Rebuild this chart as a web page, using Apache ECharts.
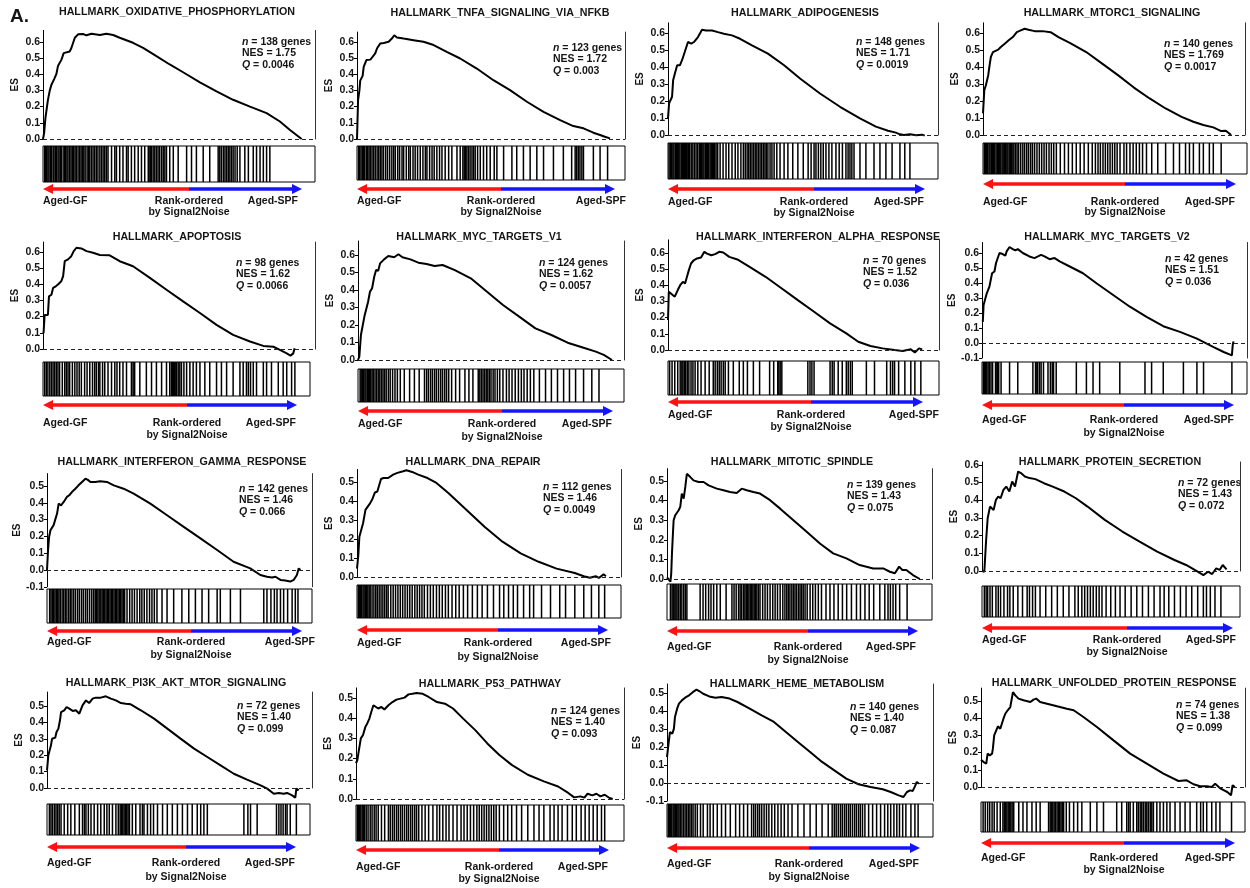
<!DOCTYPE html>
<html><head><meta charset="utf-8">
<script src="https://cdn.jsdelivr.net/npm/echarts@6/dist/echarts.min.js"></script>
<style>html,body{margin:0;padding:0;background:#fff}#c{width:1250px;height:888px}</style>
</head><body><div id="c"></div>
<script>
const FONT = '"Liberation Sans", Arial, Helvetica, sans-serif';

const titles = ['HALLMARK_OXIDATIVE_PHOSPHORYLATION','HALLMARK_TNFA_SIGNALING_VIA_NFKB','HALLMARK_ADIPOGENESIS','HALLMARK_MTORC1_SIGNALING',
  'HALLMARK_APOPTOSIS','HALLMARK_MYC_TARGETS_V1','HALLMARK_INTERFERON_ALPHA_RESPONSE','HALLMARK_MYC_TARGETS_V2',
  'HALLMARK_INTERFERON_GAMMA_RESPONSE','HALLMARK_DNA_REPAIR','HALLMARK_MITOTIC_SPINDLE','HALLMARK_PROTEIN_SECRETION',
  'HALLMARK_PI3K_AKT_MTOR_SIGNALING','HALLMARK_P53_PATHWAY','HALLMARK_HEME_METABOLISM','HALLMARK_UNFOLDED_PROTEIN_RESPONSE'];
const nGenes = [138,123,148,140,98,124,70,42,142,112,139,72,72,124,140,74];
const nesVals = ['1.75','1.72','1.71','1.769','1.62','1.62','1.52','1.51','1.46','1.46','1.43','1.43','1.40','1.40','1.40','1.38'];
const qVals = ['0.0046','0.003','0.0019','0.0017','0.0066','0.0057','0.036','0.036','0.066','0.0049','0.075','0.072','0.099','0.093','0.087','0.099'];

const ticks06 = [0,0.1,0.2,0.3,0.4,0.5,0.6];
const ticksM06 = [-0.1,0,0.1,0.2,0.3,0.4,0.5,0.6];
const ticks05 = [0,0.1,0.2,0.3,0.4,0.5];
const ticksM05 = [-0.1,0,0.1,0.2,0.3,0.4,0.5];
const yTickSets = [ticks06,ticks06,ticks06,ticks06,ticks06,ticks06,ticks06,ticksM06,
  ticksM05,ticks05,ticks05,ticks06,ticks05,ticks05,ticksM05,ticks05];

// ES curves: [rank position (% of ranked list), enrichment score]
const es1 = [[0,0],[0.4,0.035],[0.9,0.13],[1.8,0.24],[2.5,0.30],[3.1,0.335],[3.7,0.33],[4.1,0.37],[4.9,0.40],[5.5,0.45],[6.1,0.44],[6.8,0.49],[7.6,0.53],[8.3,0.54],[9.8,0.54],[10.4,0.56],[11.7,0.625],[12.9,0.646],[13.5,0.636],[14.7,0.648],[16,0.64],[17.8,0.65],[20.9,0.642],[23.3,0.65],[25.8,0.642],[28.2,0.625],[33.1,0.594],[36.8,0.563],[41.7,0.511],[46.6,0.46],[51.5,0.412],[57.7,0.35],[63.8,0.294],[69.9,0.242],[76.1,0.20],[82.2,0.16],[87.1,0.108],[90.8,0.056],[95.1,0]];
const es2 = [[0,0],[0.4,0.24],[0.9,0.30],[1.2,0.36],[1.6,0.37],[2.1,0.39],[2.5,0.445],[3.1,0.455],[3.5,0.487],[4.0,0.497],[5.0,0.49],[5.6,0.503],[6.8,0.528],[7.5,0.56],[8.7,0.59],[10.0,0.593],[11.8,0.60],[13.0,0.62],[13.9,0.64],[14.9,0.627],[17.4,0.62],[21.1,0.61],[24.8,0.60],[28.6,0.58],[33.5,0.538],[38.5,0.497],[44.7,0.435],[50.9,0.363],[57.1,0.302],[63.4,0.23],[69.6,0.168],[75.8,0.117],[80.7,0.08],[84.5,0.066],[88.2,0.039],[90.7,0.025],[92.5,0.014],[94.4,0.004]];
const es3 = [[0,0.098],[0.4,0.186],[1.0,0.176],[1.5,0.225],[1.9,0.322],[2.7,0.37],[3.4,0.41],[4.4,0.41],[5.2,0.44],[6.2,0.488],[7.4,0.547],[8.6,0.537],[9.6,0.547],[11.1,0.576],[12.6,0.619],[14.1,0.615],[16.3,0.615],[18.5,0.605],[20.7,0.596],[23.7,0.586],[26.7,0.566],[31.1,0.527],[37.0,0.479],[43.0,0.41],[48.9,0.332],[56.3,0.244],[63.7,0.166],[71.1,0.098],[77.0,0.049],[81.5,0.025],[84.4,0.014],[85.9,0.004],[87.4,0],[89.6,0.004],[91.9,-0.002],[94.1,0.002],[95.1,-0.004]];
const es4 = [[0,0.127],[0.5,0.264],[1.1,0.293],[1.5,0.283],[2.0,0.352],[2.6,0.42],[3.0,0.459],[3.8,0.488],[4.5,0.498],[5.8,0.502],[6.8,0.518],[8.3,0.537],[9.8,0.557],[11.4,0.576],[12.9,0.605],[14.4,0.615],[15.9,0.625],[17.4,0.619],[19.7,0.611],[22.7,0.611],[25.8,0.605],[28.8,0.576],[33.3,0.541],[39.4,0.488],[45.5,0.42],[51.5,0.352],[57.6,0.279],[63.6,0.215],[69.7,0.156],[75.8,0.107],[80.3,0.078],[84.1,0.059],[87.9,0.045],[90.9,0.023],[92.7,0.025],[94.7,0]];
const es5 = [[0.2,0.097],[0.6,0.21],[1.2,0.22],[1.8,0.21],[2.2,0.325],[3.1,0.335],[3.7,0.377],[4.7,0.387],[5.5,0.398],[6.1,0.408],[6.7,0.418],[7.4,0.45],[8.0,0.542],[9.2,0.553],[10.4,0.573],[11.3,0.604],[12.3,0.625],[14.1,0.621],[16.0,0.604],[18.4,0.594],[20.9,0.58],[24.5,0.578],[28.2,0.542],[33.1,0.511],[39.3,0.439],[45.4,0.366],[51.5,0.294],[57.7,0.222],[63.8,0.149],[69.9,0.087],[76.1,0.046],[81.0,0.019],[84.7,0.014],[87.1,-0.006],[89.6,-0.027],[91.0,-0.041],[92.0,-0.027],[92.5,0.004]];
const es6 = [[0,0],[0.5,0.019],[1.1,0.143],[1.8,0.133],[2.4,0.248],[3.0,0.238],[3.8,0.333],[4.5,0.39],[5.3,0.41],[6.1,0.476],[6.8,0.514],[7.6,0.51],[8.3,0.552],[9.8,0.575],[11.4,0.594],[13.6,0.587],[15.2,0.604],[16.7,0.587],[19.7,0.575],[22.7,0.556],[25.8,0.549],[28.8,0.537],[31.8,0.543],[36.4,0.514],[42.4,0.467],[48.5,0.39],[54.5,0.314],[60.6,0.248],[66.7,0.181],[72.7,0.143],[78.8,0.099],[84.8,0.07],[89.4,0.048],[92.4,0.029],[95.5,0]];
const es7 = [[0,0.185],[0.3,0.36],[1.0,0.349],[2.5,0.329],[3.6,0.37],[4.5,0.40],[5.5,0.421],[6.3,0.41],[7.0,0.452],[7.7,0.493],[8.5,0.534],[9.5,0.554],[10.7,0.565],[12.2,0.571],[13.4,0.606],[14.4,0.595],[16.0,0.585],[17.4,0.592],[18.9,0.606],[20.4,0.602],[22.6,0.575],[25.6,0.559],[30.1,0.513],[36.0,0.452],[42.0,0.38],[47.9,0.308],[53.9,0.236],[59.8,0.164],[65.8,0.103],[70.2,0.051],[74.7,0.025],[79.2,0.01],[83.6,0],[86.6,-0.006],[89.6,0.004],[91.1,-0.016],[92.6,0.01],[93.8,0.004]];
const es8 = [[0.3,0.141],[0.6,0.253],[1.3,0.246],[1.8,0.331],[2.4,0.327],[2.8,0.376],[3.4,0.387],[3.8,0.465],[4.7,0.477],[5.3,0.533],[5.9,0.544],[6.6,0.60],[7.8,0.593],[8.8,0.582],[9.3,0.611],[10.4,0.64],[11.6,0.626],[12.6,0.617],[13.5,0.626],[15.4,0.60],[17.9,0.577],[19.8,0.566],[21.1,0.577],[22.3,0.588],[23.6,0.577],[25.5,0.559],[27.4,0.566],[29.3,0.544],[33.1,0.51],[38.1,0.465],[43.2,0.398],[49.5,0.32],[55.8,0.242],[62.1,0.174],[68.4,0.112],[74.7,0.074],[81.1,0.029],[87.4,-0.027],[91.2,-0.06],[94.3,-0.083],[94.6,-0.016],[94.9,0.011]];
const es9 = [[0,0],[0.4,0.119],[0.8,0.198],[1.3,0.237],[1.9,0.247],[2.5,0.267],[3.1,0.277],[3.8,0.336],[4.4,0.395],[5.3,0.385],[6.3,0.405],[7.5,0.435],[8.4,0.445],[9.4,0.464],[10.7,0.484],[11.9,0.504],[13.2,0.524],[14.5,0.543],[15.3,0.538],[16.4,0.524],[18.2,0.524],[20.1,0.528],[22.6,0.524],[25.2,0.504],[28.9,0.484],[32.7,0.455],[39.0,0.395],[45.3,0.326],[51.6,0.257],[57.9,0.188],[64.2,0.119],[70.4,0.049],[76.7,0.01],[80.5,-0.03],[83.0,-0.04],[84.9,-0.045],[86.2,-0.04],[88.1,-0.059],[89.9,-0.063],[90.6,-0.055],[91.8,-0.069],[93.1,-0.059],[94.3,-0.03],[95.0,0.01],[95.6,0]];
const es10 = [[0,0.044],[0.5,0.115],[0.9,0.212],[1.6,0.247],[2.3,0.283],[3.2,0.353],[3.9,0.345],[5.0,0.389],[5.7,0.406],[6.8,0.445],[7.7,0.45],[9.1,0.516],[10.0,0.521],[11.8,0.521],[13.7,0.539],[15.3,0.548],[17.5,0.557],[18.7,0.562],[20.9,0.553],[23.2,0.539],[26.7,0.521],[30.1,0.495],[34.6,0.442],[41.5,0.353],[48.3,0.265],[55.1,0.186],[62.0,0.124],[68.8,0.08],[75.6,0.044],[82.5,0.021],[85.9,0.004],[88.2,-0.004],[90.4,0.004],[91.6,-0.005],[93.4,0.014],[94.3,0.004]];
const es11 = [[0,0.008],[0.6,0.003],[1.3,-0.014],[1.6,0.029],[1.9,0.139],[2.3,0.249],[2.5,0.30],[3.1,0.325],[3.8,0.317],[4.4,0.351],[5.0,0.368],[5.6,0.436],[6.3,0.41],[6.9,0.47],[7.5,0.537],[8.8,0.52],[10.0,0.503],[11.9,0.495],[13.8,0.495],[15.7,0.478],[18.8,0.461],[21.3,0.453],[23.8,0.444],[26.3,0.439],[28.2,0.461],[30.1,0.453],[32.6,0.444],[35.1,0.436],[38.9,0.402],[42.7,0.359],[47.7,0.30],[52.7,0.241],[57.7,0.181],[62.7,0.131],[67.7,0.105],[72.7,0.071],[77.8,0.054],[81.6,0.054],[84.1,0.037],[86.0,0.029],[87.6,0.063],[88.8,0.046],[90.3,0.046],[92.8,0.02],[95.4,0]];
const es12 = [[0,0],[0.9,-0.004],[1.6,0.175],[2.2,0.298],[3.1,0.364],[4.5,0.345],[5.4,0.402],[6.3,0.421],[7.2,0.411],[8.3,0.458],[9.4,0.477],[10.6,0.449],[11.7,0.506],[12.8,0.477],[14.0,0.562],[15.1,0.553],[16.6,0.534],[18.4,0.525],[20.7,0.519],[24.0,0.496],[27.4,0.477],[31.9,0.449],[36.4,0.411],[40.9,0.364],[47.6,0.289],[54.4,0.223],[61.1,0.166],[67.9,0.109],[74.6,0.062],[79.1,0.034],[83.6,-0.004],[85.8,-0.023],[87.6,-0.004],[89.2,-0.017],[90.8,0.015],[92.1,0.006],[93.3,0.034],[94.8,0.009]];
const es13 = [[0,0.108],[0.5,0.199],[1.1,0.205],[1.5,0.26],[1.9,0.30],[2.5,0.311],[3.1,0.307],[3.6,0.341],[4.3,0.362],[4.9,0.413],[5.3,0.463],[5.9,0.457],[6.5,0.473],[7.4,0.494],[8.4,0.484],[9.7,0.47],[10.9,0.474],[12.2,0.453],[13.4,0.504],[14.7,0.534],[15.9,0.518],[17.2,0.545],[18.4,0.551],[20.3,0.551],[22.2,0.559],[24.1,0.545],[26.0,0.534],[27.9,0.518],[29.7,0.514],[31.6,0.51],[35.4,0.474],[40.4,0.423],[45.4,0.362],[50.4,0.301],[55.5,0.24],[60.5,0.189],[65.5,0.138],[70.5,0.087],[75.5,0.051],[80.6,0.016],[83.1,-0.004],[85.6,-0.035],[87.5,-0.03],[89.3,-0.035],[90.6,-0.03],[92.5,-0.045],[93.7,-0.059],[94.1,-0.004],[95.0,-0.014]];
const es14 = [[0,0.177],[0.5,0.193],[1.1,0.243],[1.8,0.30],[2.6,0.316],[3.5,0.357],[4.2,0.374],[5.0,0.398],[5.7,0.431],[6.5,0.464],[7.2,0.456],[8.3,0.448],[9.5,0.456],[10.6,0.443],[12.1,0.464],[13.6,0.48],[15.1,0.492],[16.6,0.497],[18.1,0.502],[19.6,0.518],[21.1,0.521],[22.6,0.525],[24.9,0.521],[27.1,0.505],[30.2,0.48],[33.2,0.472],[36.2,0.448],[40.0,0.398],[44.5,0.341],[49.0,0.275],[53.5,0.218],[58.1,0.169],[64.1,0.12],[70.1,0.087],[75.4,0.062],[79.2,0.03],[81.4,0.008],[83.7,0.013],[85.2,0.007],[86.4,0.026],[88.2,0.018],[89.7,0.026],[91.2,0.013],[92.8,0.021],[94.6,0.005],[95.8,0]];
const es15 = [[0,0.144],[0.5,0.209],[1.1,0.283],[2.0,0.274],[2.6,0.302],[3.0,0.367],[3.8,0.413],[4.5,0.441],[5.6,0.459],[6.8,0.474],[8.3,0.487],[9.8,0.506],[11.1,0.519],[12.1,0.511],[13.6,0.496],[15.9,0.481],[18.2,0.474],[20.5,0.478],[23.5,0.469],[26.5,0.45],[31.1,0.413],[35.6,0.376],[40.2,0.339],[44.7,0.283],[49.2,0.228],[53.8,0.172],[58.3,0.117],[62.9,0.07],[67.4,0.024],[72.0,-0.007],[76.5,-0.022],[81.1,-0.035],[84.1,-0.05],[87.1,-0.069],[88.9,-0.078],[90.2,-0.05],[91.4,-0.041],[92.4,-0.044],[93.2,-0.019],[93.9,0.006],[94.7,-0.004]];
const es16 = [[0,0.159],[1.0,0.145],[2.0,0.136],[2.5,0.194],[3.3,0.184],[4.2,0.194],[4.5,0.223],[5.0,0.30],[5.7,0.291],[6.4,0.353],[7.3,0.339],[7.9,0.333],[8.5,0.397],[9.2,0.426],[10.1,0.446],[11.1,0.465],[12.1,0.552],[13.0,0.533],[14.2,0.514],[16.1,0.504],[18.7,0.494],[19.9,0.508],[20.9,0.514],[22.4,0.494],[25.0,0.484],[28.8,0.469],[32.5,0.455],[35.1,0.446],[38.8,0.407],[43.9,0.349],[50.2,0.271],[56.5,0.194],[62.8,0.136],[69.1,0.078],[74.8,0.035],[77.9,0.039],[80.5,0.016],[83.0,0.004],[85.5,0.004],[87.4,0],[88.7,0.019],[90.8,-0.01],[93.3,-0.029],[94.7,-0.048],[95.3,0.01],[96.2,0]];

// Gene-set hit positions (% of ranked list)
const hits1 = [0.6,1.0,1.3,1.8,2.2,2.7,3.1,3.7,4.0,4.5,4.9,5.5,5.9,6.4,6.7,7.4,8.0,8.3,8.8,9.2,9.8,10.3,10.8,11.3,11.8,12.3,12.9,13.5,14.0,14.5,15.0,15.5,16.2,16.7,17.2,17.8,18.4,19.0,19.6,20.2,20.9,21.5,22.1,22.7,23.3,23.9,25.2,26.4,27.0,28.2,29.4,30.7,31.3,32.5,33.7,35.0,36.2,37.4,38.7,39.0,39.5,39.9,40.5,41.1,41.7,42.3,42.9,43.6,44.2,44.8,45.4,46.6,47.9,49.7,52.8,54.6,56.4,58.9,61.3,64.4,65.0,65.6,66.3,66.9,67.5,68.1,68.7,69.3,69.9,70.6,71.4,72.4,74.2,75.5,77.3,78.5,79.8,81.0,82.2,83.4];
const hits2 = [0.6,1.0,1.5,2.0,2.5,2.9,3.5,4.0,4.5,5.0,5.6,6.2,6.8,7.5,8.1,8.7,9.3,9.9,10.7,11.4,12.2,13.0,13.7,14.3,15.2,15.9,16.8,17.4,18.4,19.3,19.9,20.9,21.7,22.6,23.6,24.6,25.5,26.1,27.1,28.0,28.8,29.8,30.8,31.7,32.9,34.2,35.4,37.3,38.5,39.5,40.0,40.5,41.0,41.6,42.2,42.9,43.5,44.1,45.0,46.0,47.2,48.4,49.7,51.2,52.2,54.7,57.8,59.6,62.1,64.6,67.1,69.6,73.3,77.0,80.1,81.4,82.0,82.6,83.2,83.9,84.5,88.2,90.7,93.5];
const hits3 = [0.4,0.9,1.3,1.8,2.2,2.7,3.1,3.6,4.0,4.4,4.9,5.3,5.8,6.2,6.5,6.8,7.1,7.6,8.0,8.6,9.2,9.8,10.4,11.0,11.6,12.0,12.4,12.9,13.3,13.8,14.2,14.7,15.1,15.6,16.0,16.4,16.9,17.3,17.8,18.4,19.3,20.4,21.5,22.5,23.7,24.9,25.9,27.0,27.9,28.6,29.3,29.9,30.5,31.1,31.7,32.3,32.9,33.5,34.1,34.7,35.3,35.9,36.4,37.0,37.8,38.5,39.3,40.3,41.5,43.0,44.4,46.2,48.1,50.1,51.9,53.0,54.1,54.8,55.7,56.6,57.5,58.5,59.6,60.7,62.2,63.4,64.6,65.9,66.7,67.4,68.1,68.9,71.1,73.3,76.3,78.5,80.7,83.0,85.9,87.7,89.6];
const hits4 = [0.5,0.9,1.4,1.8,2.3,2.7,3.2,3.6,4.1,4.5,5.0,5.5,5.9,6.4,6.8,7.3,7.7,8.2,8.6,9.1,9.5,10.0,10.5,10.9,11.4,11.8,12.4,13.0,13.6,14.4,15.2,15.9,16.7,17.4,18.2,18.9,19.7,20.6,21.5,22.4,23.3,24.2,25.2,26.1,27.0,28.0,29.5,31.1,32.6,34.1,35.6,37.1,38.6,40.2,41.7,42.9,43.9,44.8,45.8,46.7,47.6,48.5,49.4,50.3,51.2,52.3,53.8,54.8,56.1,57.3,58.5,59.7,60.9,62.4,64.4,66.7,69.7,72.7,75.0,77.3,78.8,80.3,82.6,84.1,86.4,87.9,90.9];
const hits5 = [0.6,1.2,1.8,2.5,3.1,3.7,4.3,4.9,5.5,6.1,7.1,8.0,8.6,9.2,9.8,10.8,11.7,12.5,13.3,14.1,15.3,16.2,17.2,18.2,19.0,19.6,20.4,20.9,21.9,22.7,23.9,25.2,26.4,27.2,28.2,29.4,30.7,32.5,33.1,33.5,33.7,35.6,38.0,39.9,41.7,43.6,45.4,46.6,47.2,47.6,47.9,48.3,48.6,49.1,49.7,50.3,50.9,51.8,52.8,54.0,55.2,56.4,57.7,59.5,61.3,63.8,65.6,67.5,69.9,72.4,73.6,74.8,75.5,76.3,77.3,78.5,81.0,82.2,84.0,86.5,88.3,89.6,91.4,92.6];
const hits6 = [0.8,1.2,1.7,2.1,2.6,3.0,3.5,3.9,4.4,4.8,5.3,5.8,6.4,7.0,7.6,8.2,8.8,9.4,10.0,10.6,11.4,12.1,13.0,13.9,14.8,15.9,17.4,19.4,21.2,23.0,25.0,25.8,26.5,27.3,28.0,28.8,29.5,30.3,31.1,31.8,32.6,33.3,34.1,35.2,36.7,38.2,40.2,41.7,43.2,45.2,45.8,46.4,47.0,47.6,48.2,48.8,49.4,50.0,50.8,51.5,52.4,53.3,54.5,55.8,56.8,57.9,59.1,60.3,61.4,62.4,63.6,64.8,66.1,68.2,70.5,72.7,75.0,77.3,79.5,81.8,84.8,87.9,90.6];
const hits7 = [0.6,1.5,2.5,3.6,4.5,5.1,5.5,6.0,6.5,7.1,7.7,8.5,9.2,10.0,11.0,12.2,13.7,15.2,16.7,17.4,18.2,18.9,19.6,20.4,21.1,22.3,24.1,26.3,27.8,29.3,31.5,33.8,37.5,39.0,40.5,40.9,41.4,42.0,51.6,52.4,53.1,53.9,59.8,60.6,61.3,62.8,64.3,65.8,66.5,67.3,68.0,73.2,76.2,80.7,82.1,82.9,83.6,85.1,87.4,89.6,91.1,93.3];
const hits8 = [0.5,0.9,1.3,1.8,2.3,2.8,3.4,4.0,5.1,5.6,5.9,6.3,7.2,10.4,13.5,19.2,20.2,20.7,21.0,21.7,22.3,23.2,24.9,25.8,26.5,27.0,28.0,35.6,39.4,41.9,44.4,52.0,61.5,64.0,68.4,76.0,81.1,83.6,94.3];
const hits9 = [1.0,1.5,2.0,2.5,3.0,3.5,4.0,4.5,5.0,5.7,6.3,6.9,7.5,8.2,8.8,9.4,10.1,10.8,11.6,12.3,13.1,13.8,14.6,15.3,16.1,16.9,17.6,18.2,18.7,19.2,19.7,20.3,20.8,21.3,21.8,22.3,22.8,23.3,23.8,24.3,24.8,25.3,25.8,26.3,26.8,27.3,27.8,28.3,28.8,29.3,30.2,31.2,32.1,33.0,34.0,35.0,35.8,36.7,37.7,38.7,39.6,40.5,41.5,43.4,45.3,47.8,50.9,53.5,56.0,58.5,61.0,64.2,65.4,69.2,73.0,81.8,83.0,84.5,85.8,86.8,88.1,89.3,90.8,92.5,93.7,94.7];
const hits10 = [0.5,0.9,1.4,1.8,2.3,2.7,3.2,3.6,4.1,4.6,5.0,5.7,6.4,7.1,7.7,8.4,9.1,9.8,10.5,11.2,11.8,12.8,13.7,14.6,15.5,16.4,17.3,18.2,19.1,20.0,20.9,21.9,22.8,23.7,24.6,25.5,26.7,27.8,28.9,30.1,31.2,32.3,33.5,34.6,36.0,37.4,38.7,40.3,41.9,43.7,45.6,47.4,49.4,51.7,54.0,55.6,57.4,59.2,60.8,63.1,65.4,66.9,69.9,73.3,76.8,79.0,82.5,85.9,88.8,91.6,93.8];
const hits11 = [1.3,1.9,2.3,2.6,3.0,3.4,3.8,4.4,5.0,5.6,6.3,6.9,7.5,12.5,13.6,14.6,15.7,16.6,17.6,18.8,20.1,22.3,24.5,25.3,26.1,27.0,27.6,28.2,28.9,29.4,29.9,30.4,30.9,31.4,31.9,32.4,32.9,33.4,33.9,34.5,35.1,36.1,37.0,37.9,38.9,39.9,40.8,41.7,42.7,43.7,44.5,45.2,45.8,46.4,47.1,47.7,48.3,48.9,49.6,50.2,50.8,51.4,52.1,52.9,54.0,55.0,56.0,57.1,58.3,60.0,61.5,63.0,64.6,66.2,67.8,69.6,71.5,73.0,74.7,76.3,78.0,80.3,82.2,83.4,84.3,85.3,86.3,87.8,90.6];
const hits12 = [0.9,1.6,2.2,3.1,4.0,5.4,6.3,7.2,8.5,9.9,10.8,12.1,13.9,15.7,17.5,18.4,19.6,20.7,22.5,24.7,27.0,29.2,31.5,33.7,36.0,37.3,38.7,39.8,40.9,42.0,43.1,44.3,45.4,46.5,48.1,49.9,51.7,53.5,55.5,57.8,60.0,62.2,64.5,66.7,69.0,70.6,72.4,74.6,76.9,79.1,81.3,83.6,85.8,87.0,88.5,90.3,92.6];
const hits13 = [0.9,1.5,2.1,2.8,3.4,4.0,4.6,5.3,6.5,7.8,9.0,10.5,12.2,13.4,14.1,14.7,15.6,16.6,17.8,19.1,20.3,21.6,22.6,23.5,24.7,26.0,26.9,27.6,28.1,28.6,29.1,29.6,30.1,30.6,31.1,32.2,33.5,35.1,36.0,36.6,37.9,39.1,40.2,41.7,43.6,45.4,47.3,49.2,51.1,53.0,54.8,56.7,58.0,59.2,60.5,74.3,75.8,76.8,79.3,86.6,87.5,88.3,89.1,90.0,90.6,91.8,94.1];
const hits14 = [0.5,0.9,1.4,1.8,2.3,2.7,3.2,3.8,4.5,5.3,6.0,6.8,7.5,8.3,9.5,10.7,12.1,12.8,13.6,14.3,15.1,15.8,16.6,17.3,18.1,18.9,19.6,20.4,21.1,21.9,22.6,23.4,24.6,25.8,27.1,28.7,30.2,31.2,32.4,33.6,34.7,36.2,37.7,39.2,40.3,41.5,42.7,43.9,45.1,46.0,46.9,47.8,48.7,49.6,50.5,51.4,52.3,53.5,55.1,56.6,58.1,59.9,61.8,64.1,66.4,68.3,70.1,72.4,73.9,75.4,76.9,78.9,80.7,82.2,84.0,85.5,87.0,88.5,90.0,91.6,92.8];
const hits15 = [0.5,0.9,1.4,1.8,2.3,2.7,3.2,3.6,4.1,4.5,5.0,5.6,6.2,6.8,7.4,8.0,8.6,9.2,9.8,10.6,11.4,12.6,13.6,15.2,16.2,17.4,18.9,20.5,22.0,23.8,25.8,27.3,28.8,30.3,31.8,32.6,33.3,34.1,34.8,35.6,36.5,37.4,38.3,39.4,40.5,41.7,42.9,44.1,45.5,47.0,49.2,51.5,53.8,56.1,58.3,60.6,62.1,62.9,63.6,64.4,65.2,65.9,66.7,67.4,68.2,68.9,69.7,70.5,71.2,72.0,72.7,73.5,74.4,75.8,77.3,78.8,80.3,81.8,83.0,84.1,85.3,86.4,87.4,88.6,89.8,91.7,93.2,94.4];
const hits16 = [0.8,1.6,2.5,3.3,4.2,5.0,6.1,7.3,8.3,8.8,9.3,9.8,10.3,10.8,11.3,11.8,12.4,14.3,15.9,17.4,19.3,20.9,22.4,25.6,26.2,26.7,27.2,27.7,28.2,28.8,29.3,29.8,30.3,30.8,31.3,32.3,33.5,35.1,36.6,38.2,41.4,43.9,46.4,51.4,53.3,55.2,55.9,56.5,57.7,59.0,59.6,60.3,60.9,61.5,62.2,62.8,63.4,64.1,64.7,65.3,66.6,67.8,69.1,70.4,71.6,73.5,75.4,77.3,79.2,81.7,83.2,84.2,85.5,87.4,89.0,90.5,94.9];

const esData = [es1,es2,es3,es4,es5,es6,es7,es8,es9,es10,es11,es12,es13,es14,es15,es16];
const hitsData = [hits1,hits2,hits3,hits4,hits5,hits6,hits7,hits8,hits9,hits10,hits11,hits12,hits13,hits14,hits15,hits16];

// Panel layout (pixels) and axis extents
const layout = [
 {ax:43,rx:315,y0:139,t:16.2,yMin:0,yMax:0.67,bT:146,bB:182,bR:315,aY:189,aE:302,mid:189,l1:201,l2:212,spf:298,tX:177,tY:12,nX:242,nY:42},
 {ax:357,rx:625,y0:139,t:16.2,yMin:0,yMax:0.66,bT:146,bB:180,bR:625,aY:189,aE:615,mid:501,l1:201,l2:212,spf:626,tX:500,tY:13,nX:553,nY:48},
 {ax:668,rx:938,y0:135,t:17,yMin:0,yMax:0.66,bT:143,bB:179,bR:938,aY:189,aE:925,mid:814,l1:202,l2:213,spf:924,tX:805,tY:13,nX:856,nY:42},
 {ax:983,rx:1245,y0:135,t:17,yMin:0,yMax:0.66,bT:143,bB:174,bR:1247,aY:184,aE:1236,mid:1125,l1:202,l2:212,spf:1235,tX:1112,tY:13,nX:1164,nY:44},
 {ax:43,rx:315,y0:349,t:16.2,yMin:0,yMax:0.66,bT:362,bB:396,bR:310,aY:405,aE:297,mid:187,l1:423,l2:435,spf:296,tX:177,tY:237,nX:236,nY:263},
 {ax:358,rx:624,y0:360,t:17.5,yMin:0,yMax:0.68,bT:369,bB:402,bR:624,aY:411,aE:613,mid:502,l1:424,l2:437,spf:612,tX:479,tY:237,nX:539,nY:263},
 {ax:668,rx:939,y0:350,t:16.2,yMin:0,yMax:0.68,bT:361,bB:395,bR:939,aY:402,aE:923,mid:811,l1:415,l2:427,spf:939,tX:818,tY:237,nX:863,nY:261},
 {ax:982,rx:1247,y0:343,t:15,yMin:-0.1,yMax:0.67,bT:362,bB:394,bR:1247,aY:405,aE:1234,mid:1124,l1:420,l2:433,spf:1234,tX:1107,tY:237,nX:1165,nY:259},
 {ax:47,rx:312,y0:570,t:16.8,yMin:-0.1,yMax:0.574,bT:589,bB:623,bR:312,aY:631,aE:302,mid:191,l1:642,l2:655,spf:315,tX:182,tY:462,nX:239,nY:489},
 {ax:357,rx:621,y0:577,t:19,yMin:0,yMax:0.566,bT:585,bB:618,bR:621,aY:630,aE:608,mid:498,l1:643,l2:657,spf:611,tX:473,tY:462,nX:543,nY:487},
 {ax:667,rx:932,y0:579,t:19.6,yMin:0,yMax:0.563,bT:584,bB:620,bR:932,aY:631,aE:918,mid:808,l1:647,l2:660,spf:916,tX:792,tY:462,nX:847,nY:485},
 {ax:982,rx:1240,y0:571,t:17.7,yMin:0,yMax:0.616,bT:586,bB:617,bR:1240,aY:628,aE:1233,mid:1127,l1:640,l2:652,spf:1236,tX:1110,tY:462,nX:1178,nY:483},
 {ax:47,rx:312,y0:788,t:16.4,yMin:0,yMax:0.585,bT:804,bB:835,bR:310,aY:847,aE:296,mid:186,l1:863,l2:877,spf:295,tX:176,tY:683,nX:237,nY:706},
 {ax:356,rx:624,y0:799,t:20.2,yMin:0,yMax:0.55,bT:805,bB:841,bR:624,aY:850,aE:609,mid:499,l1:867,l2:879,spf:608,tX:490,tY:684,nX:551,nY:711},
 {ax:667,rx:933,y0:783,t:18,yMin:-0.1,yMax:0.55,bT:804,bB:837,bR:933,aY:848,aE:920,mid:809,l1:864,l2:877,spf:919,tX:797,tY:684,nX:850,nY:707},
 {ax:981,rx:1245,y0:787,t:17.2,yMin:0,yMax:0.575,bT:802,bB:832,bR:1245,aY:843,aE:1235,mid:1124,l1:858,l2:870,spf:1235,tX:1114,tY:683,nX:1176,nY:705}
];

const RED = '#ff1212', BLUE = '#1414ff', INK = '#151515';
const grids = [], xAxes = [], yAxes = [], series = [], graphics = [];
const txt = (x, y, text, size, align, extra) => ({type:'text', x:x, y:y, silent:true,
  style:Object.assign({text:text, fill:INK, fontFamily:FONT, fontWeight:'bold', fontSize:size, align:align, verticalAlign:'middle'}, extra||{})});

graphics.push(txt(10, 17, 'A.', 19, 'left'));

layout.forEach((L, i) => {
  const top = L.y0 - L.yMax / 0.1 * L.t;
  const bottom = L.y0 - L.yMin / 0.1 * L.t;
  const gi = grids.length;
  grids.push({left:L.ax, top:top, width:L.rx - L.ax, height:bottom - top});
  grids.push({left:L.ax, top:L.bT, width:L.bR - L.ax, height:L.bB - L.bT, show:true, borderColor:'#000', borderWidth:1, backgroundColor:'#fff'});
  const xi = xAxes.length;
  xAxes.push({gridIndex:gi, type:'value', min:0, max:100, show:false});
  xAxes.push({gridIndex:gi + 1, type:'value', min:0, max:100 * (L.bR - L.ax) / (L.rx - L.ax), show:false});
  const yi = yAxes.length;
  const ticks = yTickSets[i];
  yAxes.push({gridIndex:gi, type:'value', min:L.yMin, max:L.yMax, position:'left',
    axisLine:{show:true, onZero:false, lineStyle:{color:'#000', width:1}},
    axisTick:{show:true, length:3, customValues:ticks, lineStyle:{color:'#000'}},
    axisLabel:{customValues:ticks, formatter:v => v.toFixed(1), color:INK, fontSize:10.5, fontWeight:'bold', fontFamily:FONT, margin:3},
    splitLine:{show:false},
    name:'ES', nameLocation:'middle', nameGap:23,
    nameTextStyle:{color:INK, fontSize:10, fontWeight:'bold', fontFamily:FONT}});
  yAxes.push({gridIndex:gi, type:'value', min:L.yMin, max:L.yMax, position:'right',
    axisLine:{show:true, onZero:false, lineStyle:{color:'#333', width:1}},
    axisTick:{show:false}, axisLabel:{show:false}, splitLine:{show:false}});
  yAxes.push({gridIndex:gi + 1, type:'value', min:0, max:1, show:false});

  series.push({type:'line', xAxisIndex:xi, yAxisIndex:yi, data:esData[i], showSymbol:false, symbol:'none',
    clip:false, silent:true, animation:false, lineStyle:{color:'#000', width:2}, z:3,
    markLine:{silent:true, symbol:['none','none'], animation:false, label:{show:false},
      lineStyle:{type:[4,3], color:'#222', width:1}, data:[{yAxis:0}]}});
  series.push({type:'custom', xAxisIndex:xi + 1, yAxisIndex:yi + 2, silent:true, animation:false,
    data:hitsData[i].map(h => [h, 0.5]),
    renderItem:(params, api) => {
      const p = api.coord([api.value(0), 0.5]);
      const cs = params.coordSys;
      const x = p[0];
      return {type:'line', shape:{x1:x, y1:cs.y, x2:x, y2:cs.y + cs.height}, style:{stroke:'#000', lineWidth:1.5}};
    }});

  graphics.push(txt(L.tX, L.tY, titles[i], 10.7, 'center'));
  const rs = {fontWeight:'bold', fontSize:10.5, fontFamily:FONT, fill:INK, lineHeight:11.5};
  graphics.push({type:'text', x:L.nX, y:L.nY - 6, silent:true, style:{
    text:'{i|n}{b| = ' + nGenes[i] + ' genes}\n{b|NES = ' + nesVals[i] + '}\n{i|Q}{b| = ' + qVals[i] + '}',
    rich:{i:Object.assign({fontStyle:'italic'}, rs), b:rs}, align:'left', verticalAlign:'top'}});
  graphics.push({type:'line', silent:true, shape:{x1:L.ax + 8, y1:L.aY, x2:L.mid, y2:L.aY}, style:{stroke:RED, lineWidth:3.5}});
  graphics.push({type:'line', silent:true, shape:{x1:L.mid, y1:L.aY, x2:L.aE - 8, y2:L.aY}, style:{stroke:BLUE, lineWidth:3.5}});
  graphics.push({type:'polygon', silent:true, shape:{points:[[L.ax, L.aY],[L.ax + 10, L.aY - 5],[L.ax + 10, L.aY + 5]]}, style:{fill:RED}});
  graphics.push({type:'polygon', silent:true, shape:{points:[[L.aE, L.aY],[L.aE - 10, L.aY - 5],[L.aE - 10, L.aY + 5]]}, style:{fill:BLUE}});
  graphics.push(txt(L.ax, L.l1, 'Aged-GF', 10.5, 'left'));
  graphics.push(txt(L.mid, L.l1, 'Rank-ordered', 10.5, 'center'));
  graphics.push(txt(L.mid, L.l2, 'by Signal2Noise', 10.5, 'center'));
  graphics.push(txt(L.spf, L.l1, 'Aged-SPF', 10.5, 'right'));
});

const chart = echarts.init(document.getElementById('c'), null, {renderer:'canvas'});
chart.setOption({
  backgroundColor:'#fff',
  animation:false,
  grid:grids, xAxis:xAxes, yAxis:yAxes, series:series,
  graphic:{elements:graphics}
});
</script>
</body></html>
